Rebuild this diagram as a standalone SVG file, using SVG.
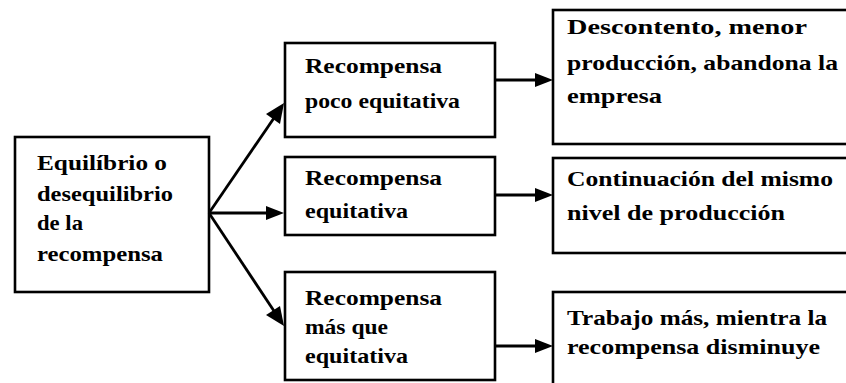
<svg xmlns="http://www.w3.org/2000/svg" width="846" height="383" viewBox="0 0 846 383">
<defs>
<style>
.box{fill:#fff;stroke:#000;stroke-width:2.6}
.c{stroke:#000;stroke-width:2.8;fill:none}
.h{fill:#000;stroke:none}
.t{font-family:'Liberation Serif','Times New Roman',serif;font-weight:700;font-size:22px;fill:#000}
</style>
</defs>
<rect x="0" y="0" width="846" height="383" fill="#ffffff"/>
<g id="n-root">
<rect class="box" x="15" y="137" width="194" height="155"/>
<text class="t" x="37" y="170" textLength="130" lengthAdjust="spacingAndGlyphs">Equilíbrio o</text>
<text class="t" x="37" y="201" textLength="136" lengthAdjust="spacingAndGlyphs">desequilibrio</text>
<text class="t" x="37" y="230" textLength="46" lengthAdjust="spacingAndGlyphs">de la</text>
<text class="t" x="37" y="261" textLength="126" lengthAdjust="spacingAndGlyphs">recompensa</text>
</g>
<g id="n-poco">
<rect class="box" x="285" y="43" width="210" height="94"/>
<text class="t" x="305" y="73" textLength="137" lengthAdjust="spacingAndGlyphs">Recompensa</text>
<text class="t" x="305" y="108" textLength="155" lengthAdjust="spacingAndGlyphs">poco equitativa</text>
</g>
<g id="n-equit">
<rect class="box" x="285" y="157" width="210" height="78"/>
<text class="t" x="305" y="185" textLength="137" lengthAdjust="spacingAndGlyphs">Recompensa</text>
<text class="t" x="305" y="218" textLength="103" lengthAdjust="spacingAndGlyphs">equitativa</text>
</g>
<g id="n-mas">
<rect class="box" x="285" y="272" width="210" height="108"/>
<text class="t" x="305" y="305" textLength="137" lengthAdjust="spacingAndGlyphs">Recompensa</text>
<text class="t" x="305" y="334" textLength="83" lengthAdjust="spacingAndGlyphs">más que</text>
<text class="t" x="305" y="363" textLength="103" lengthAdjust="spacingAndGlyphs">equitativa</text>
</g>
<g id="n-descontento">
<rect class="box" x="553" y="10" width="300" height="134"/>
<text class="t" x="567" y="34" textLength="240" lengthAdjust="spacingAndGlyphs">Descontento, menor</text>
<text class="t" x="567" y="70" textLength="271" lengthAdjust="spacingAndGlyphs">producción, abandona la</text>
<text class="t" x="567" y="103" textLength="95" lengthAdjust="spacingAndGlyphs">empresa</text>
</g>
<g id="n-continuacion">
<rect class="box" x="553" y="158" width="300" height="95"/>
<text class="t" x="567" y="186" textLength="266" lengthAdjust="spacingAndGlyphs">Continuación del mismo</text>
<text class="t" x="567" y="220" textLength="218" lengthAdjust="spacingAndGlyphs">nivel de  producción</text>
</g>
<g id="n-trabajo">
<rect class="box" x="553" y="292" width="300" height="100"/>
<text class="t" x="567" y="325" textLength="260" lengthAdjust="spacingAndGlyphs">Trabajo más, mientra la</text>
<text class="t" x="567" y="354" textLength="253" lengthAdjust="spacingAndGlyphs">recompensa disminuye</text>
</g>
<g id="connectors">
<line class="c" x1="209" y1="213" x2="274" y2="118"/>
<polygon class="h" points="284,103 280,124 266,114"/>
<line class="c" x1="209" y1="213" x2="268" y2="213"/>
<polygon class="h" points="284,213 266,206 266,220"/>
<line class="c" x1="209" y1="213" x2="274" y2="311"/>
<polygon class="h" points="284,326 266,315 280,306"/>
<line class="c" x1="495" y1="80" x2="536" y2="80"/>
<polygon class="h" points="553,80 535,73 535,87"/>
<line class="c" x1="495" y1="195" x2="536" y2="195"/>
<polygon class="h" points="553,195 535,188 535,202"/>
<line class="c" x1="495" y1="346" x2="536" y2="346"/>
<polygon class="h" points="553,346 535,339 535,353"/>
</g>
</svg>
